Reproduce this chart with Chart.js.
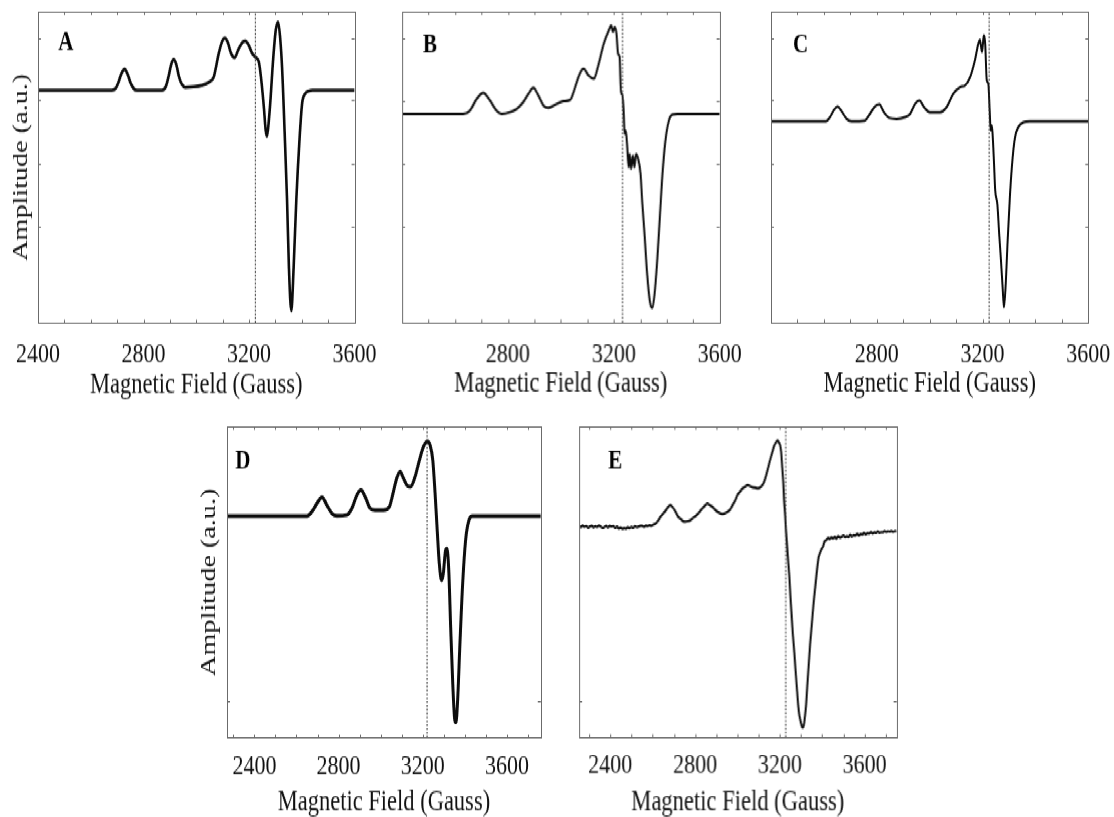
<!DOCTYPE html>
<html>
<head>
<meta charset="utf-8">
<script src="https://cdn.jsdelivr.net/npm/chart.js@4.4.1/dist/chart.umd.min.js"></script>
<style>
  html, body { margin: 0; padding: 0; background: #fff; overflow: hidden; }
  #stage { position: absolute; left: 0; top: 0; width: 1114px; height: 640px; transform-origin: 0 0; }
  .panel { position: absolute; }
</style>
</head>
<body>
<div id="stage"></div>
<script>
// --- Data (EPR spectra, field in Gauss, amplitude in a.u.) ---
const fieldA = [2400, 2680, 2695, 2705, 2715, 2728, 2740, 2750, 2762, 2775,
  2870, 2885, 2895, 2905, 2914, 2924, 2934, 2945, 2958, 2990,
  3020, 3047, 3066, 3085, 3098, 3108, 3119, 3132, 3145, 3161,
  3176, 3186, 3199, 3211, 3224, 3237, 3245, 3256, 3263, 3268,
  3275, 3281, 3291, 3301, 3310, 3317, 3325, 3335, 3344, 3351,
  3360, 3369, 3379, 3391, 3401, 3413, 3426, 3440, 3600];
const ampA = [0, 0, 0.02, 0.08, 0.16, 0.21, 0.16, 0.08, 0.02, 0,
  0, 0.04, 0.14, 0.26, 0.31, 0.26, 0.14, 0.06, 0.03, 0.035,
  0.05, 0.08, 0.133, 0.367, 0.49, 0.523, 0.483, 0.367, 0.327, 0.417,
  0.483, 0.493, 0.45, 0.373, 0.333, 0.283, 0.133, -0.167, -0.4, -0.46,
  -0.3, -0.1, 0.3, 0.6, 0.683, 0.55, 0.233, -0.433, -1.1, -1.767,
  -2.207, -1.767, -1.1, -0.5, -0.133, -0.033, -0.007, 0, 0];

const fieldB = [2400, 2631, 2656, 2682, 2707, 2732, 2757, 2776, 2808, 2833,
  2858, 2877, 2896, 2915, 2934, 2953, 2985, 3010, 3035, 3054,
  3071, 3086, 3105, 3124, 3143, 3162, 3181, 3190, 3197, 3203,
  3210, 3216, 3222, 3227, 3232, 3237, 3241, 3245, 3250, 3256,
  3260, 3265, 3272, 3278, 3284, 3292, 3301, 3307, 3316, 3326,
  3336, 3345, 3354, 3364, 3374, 3384, 3395, 3408, 3421, 3440, 3600];
const ampB = [0, 0, 0.033, 0.15, 0.21, 0.133, 0.033, 0, 0.017, 0.05,
  0.117, 0.2, 0.26, 0.183, 0.083, 0.06, 0.1, 0.127, 0.14, 0.267,
  0.4, 0.45, 0.383, 0.35, 0.5, 0.7, 0.833, 0.883, 0.817, 0.867,
  0.8, 0.6, 0.567, 0.2, 0.2, 0.033, -0.2, -0.167, -0.3, -0.533,
  -0.4, -0.55, -0.417, -0.533, -0.4, -0.45, -0.6, -0.867, -1.2, -1.6,
  -1.867, -1.94, -1.8, -1.467, -1.033, -0.6, -0.267, -0.067, -0.007, 0, 0];

const fieldC = [2400, 2608, 2623, 2638, 2652, 2667, 2686, 2705, 2755, 2774,
  2793, 2810, 2827, 2847, 2875, 2907, 2926, 2945, 2961, 2979,
  3001, 3039, 3064, 3089, 3115, 3134, 3153, 3171, 3184, 3190,
  3198, 3205, 3210, 3216, 3222, 3227, 3231, 3235, 3238, 3243,
  3248, 3256, 3263, 3269, 3276, 3281, 3287, 3295, 3304, 3314,
  3323, 3335, 3354, 3379, 3600];
const ampC = [0, 0, 0.04, 0.113, 0.147, 0.1, 0.023, 0, 0.007, 0.073,
  0.147, 0.167, 0.09, 0.033, 0.023, 0.04, 0.073, 0.173, 0.207, 0.14,
  0.09, 0.09, 0.14, 0.273, 0.34, 0.357, 0.44, 0.607, 0.773, 0.813,
  0.69, 0.857, 0.773, 0.407, 0.373, 0.107, -0.093, -0.043, -0.127, -0.393,
  -0.693, -0.827, -1.127, -1.36, -1.66, -1.86, -1.66, -1.193, -0.727, -0.36,
  -0.16, -0.06, -0.01, 0, 0];

const fieldD = [2270, 2650, 2673, 2697, 2721, 2744, 2768, 2792, 2839, 2863,
  2887, 2906, 2926, 2950, 2973, 3013, 3041, 3060, 3076, 3092,
  3108, 3127, 3142, 3163, 3184, 3203, 3222, 3234, 3247, 3258,
  3269, 3278, 3289, 3297, 3308, 3314, 3323, 3332, 3342, 3351,
  3357, 3365, 3376, 3389, 3403, 3419, 3435, 3760];
const ampD = [0, 0, 0.043, 0.127, 0.187, 0.11, 0.027, 0.003, 0.01, 0.077,
  0.21, 0.26, 0.193, 0.077, 0.06, 0.06, 0.093, 0.243, 0.377, 0.443,
  0.377, 0.3, 0.293, 0.393, 0.56, 0.693, 0.743, 0.71, 0.56, 0.227,
  -0.173, -0.473, -0.64, -0.573, -0.34, -0.323, -0.54, -1.107, -1.673, -2.023,
  -2.057, -1.84, -1.273, -0.673, -0.24, -0.04, 0, 0];

const fieldE = [2253, 2262, 2270, 2279, 2287, 2296, 2304, 2313, 2321, 2330,
  2338, 2347, 2355, 2364, 2372, 2381, 2389, 2398, 2406, 2415,
  2423, 2432, 2440, 2449, 2457, 2466, 2474, 2483, 2491, 2500,
  2508, 2517, 2525, 2534, 2542, 2551, 2559, 2568, 2576, 2585,
  2594, 2602, 2613, 2625, 2637, 2649, 2661, 2672, 2684, 2696,
  2708, 2720, 2732, 2744, 2755, 2767, 2779, 2791, 2803, 2818,
  2834, 2846, 2858, 2870, 2882, 2894, 2906, 2918, 2929, 2941,
  2953, 2965, 2977, 2989, 3000, 3012, 3024, 3036, 3048, 3060,
  3071, 3083, 3095, 3107, 3119, 3131, 3142, 3153, 3163, 3172,
  3179, 3185, 3190, 3196, 3201, 3206, 3211, 3216, 3220, 3225,
  3229, 3234, 3239, 3245, 3250, 3256, 3261, 3268, 3274, 3280,
  3286, 3292, 3299, 3304, 3308, 3313, 3318, 3324, 3330, 3337,
  3343, 3351, 3359, 3367, 3375, 3383, 3391, 3397, 3403, 3411,
  3419, 3427, 3435, 3443, 3451, 3459, 3467, 3475, 3483, 3491,
  3500, 3508, 3516, 3524, 3532, 3540, 3548, 3556, 3565, 3573,
  3581, 3589, 3597, 3605, 3613, 3621, 3630, 3638, 3646, 3654,
  3662, 3670, 3678, 3686, 3694, 3702, 3710, 3718, 3727, 3735,
  3743, 3751];
const ampE = [0.005, -0.002, 0.012, 0.001, 0.008, -0.009, 0.004, 0.011, -0.005, 0.006,
  -0.002, 0.014, 0.003, -0.01, -0.002, 0.01, -0.006, 0.009, 0.002, 0.008,
  -0.01, 0.002, -0.016, -0.006, -0.02, -0.011, -0.018, -0.003, -0.013, 0.0,
  -0.01, 0.006, -0.004, 0.003, 0.009, 0.01, 0.0, 0.012, 0.008, 0.016,
  0.009, 0.022, 0.03, 0.06, 0.1, 0.13, 0.16, 0.195, 0.217, 0.19,
  0.15, 0.1, 0.08, 0.055, 0.05, 0.056, 0.066, 0.09, 0.107, 0.14,
  0.183, 0.21, 0.233, 0.215, 0.2, 0.172, 0.15, 0.135, 0.127, 0.135,
  0.15, 0.17, 0.217, 0.26, 0.317, 0.35, 0.383, 0.4, 0.417, 0.405,
  0.393, 0.39, 0.383, 0.393, 0.417, 0.48, 0.567, 0.66, 0.733, 0.8,
  0.833, 0.853, 0.86, 0.84, 0.817, 0.75, 0.6, 0.45, 0.267, 0.12,
  -0.033, -0.18, -0.333, -0.5, -0.7, -0.9, -1.067, -1.25, -1.433, -1.6,
  -1.767, -1.88, -1.95, -1.99, -2.0, -1.98, -1.9, -1.77, -1.567, -1.35,
  -1.167, -0.967, -0.767, -0.6, -0.433, -0.3, -0.25, -0.22, -0.2, -0.145,
  -0.133, -0.11, -0.122, -0.104, -0.115, -0.1, -0.118, -0.092, -0.107, -0.1,
  -0.085, -0.103, -0.094, -0.101, -0.08, -0.097, -0.084, -0.088, -0.07, -0.087,
  -0.072, -0.078, -0.06, -0.077, -0.063, -0.068, -0.052, -0.067, -0.055, -0.06,
  -0.046, -0.059, -0.053, -0.055, -0.042, -0.052, -0.044, -0.049, -0.04, -0.05,
  -0.042, -0.045];

// reference field of the dotted marker line in each panel
const markerField = { A: 3224, B: 3233, C: 3225, D: 3220, E: 3228 };

// axis ranges and tick values
const xRange = { A: [2400, 3600], B: [2400, 3600], C: [2400, 3600], D: [2270, 3760], E: [2253, 3751] };
const yRange = { A: [-2.325, 0.783], B: [-2.083, 1.017], C: [-2.01, 1.09], D: [-2.209, 0.89], E: [-2.098, 0.997] };
const xTickLabels = { A: [2400, 2800, 3200, 3600], B: [2800, 3200, 3600], C: [2800, 3200, 3600],
                      D: [2400, 2800, 3200, 3600], E: [2400, 2800, 3200, 3600] };
const yTickValues = { A: [0.523, -0.1, -0.733, -1.36], B: [0.757, 0.133, -0.5, -1.127],
                      C: [0.83, 0.207, -0.427, -1.053], D: [-1.84], E: [-1.733] };

// --- Layout (reference pixel coordinates) ---
const SY = 1.28;              // vertical stretch of the original figure
const FONT = "'Liberation Serif', 'Times New Roman', serif";
const ML = 37, MR = 45, MT = 12, MB = 85;

const panels = [
  { id: 'A', field: fieldA, amp: ampA, plot: [37.7, 11.7, 354.3, 322.5], lw: 2.6, yTitle: 7.1, tickOff: 22.2, titleOff: 62, letter: [20.3, 38.3] },
  { id: 'B', field: fieldB, amp: ampB, plot: [402.3, 11.7, 719, 322.3], lw: 2.0, tickOff: 22.2, titleOff: 62, letter: [20.7, 40] },
  { id: 'C', field: fieldC, amp: ampC, plot: [771, 11.7, 1088.3, 322.3], lw: 2.0, tickOff: 22.2, titleOff: 62, letter: [22, 40] },
  { id: 'D', field: fieldD, amp: ampD, plot: [226.7, 427, 540.5, 736.9], lw: 3.0, yTitle: 6.1, tickOff: 18.3, titleOff: 65.1, letter: [8.3, 41.3] },
  { id: 'E', field: fieldE, amp: ampE, plot: [579, 427, 895.7, 736.5], lw: 2.0, tickOff: 18.3, titleOff: 65.1, letter: [29, 41.3] }
];

const stage = document.getElementById('stage');
stage.style.transform = `scaleY(${SY})`;

// frame with inward ticks on all four sides + panel letter
const framePlugin = {
  id: 'frame',
  afterDraw(chart, args, opts) {
    const { ctx, chartArea: a, scales: { x, y } } = chart;
    ctx.save();
    ctx.strokeStyle = '#6b6b6b';
    ctx.lineWidth = 1;
    ctx.strokeRect(Math.round(a.left) + 0.5, Math.round(a.top) + 0.5,
      Math.round(a.right - a.left), Math.round(a.bottom - a.top));
    ctx.beginPath();
    const tx = 2.4, ty = 3;
    x.ticks.forEach(t => {
      const px = Math.round(x.getPixelForValue(t.value)) + 0.5;
      ctx.moveTo(px, a.bottom); ctx.lineTo(px, a.bottom - tx);
      ctx.moveTo(px, a.top); ctx.lineTo(px, a.top + tx);
    });
    y.ticks.forEach(t => {
      const py = Math.round(y.getPixelForValue(t.value)) + 0.5;
      ctx.moveTo(a.left, py); ctx.lineTo(a.left + ty, py);
      ctx.moveTo(a.right, py); ctx.lineTo(a.right - ty, py);
    });
    ctx.stroke();
    ctx.fillStyle = '#000';
    ctx.font = `bold 21px ${FONT}`;
    ctx.textBaseline = 'alphabetic';
    ctx.fillText(opts.letter, a.left + opts.dx, a.top + opts.dy / SY);
    ctx.restore();
  }
};

function makePanel(p) {
  const [L, T, R, B] = p.plot;
  const wrap = document.createElement('div');
  wrap.className = 'panel';
  wrap.style.left = (L - ML) + 'px';
  wrap.style.top = ((T - MT) / SY) + 'px';
  wrap.style.width = (R - L + ML + MR) + 'px';
  wrap.style.height = ((B - T + MT + MB) / SY) + 'px';
  const canvas = document.createElement('canvas');
  wrap.appendChild(canvas);
  stage.appendChild(wrap);

  const [xMin, xMax] = xRange[p.id];
  const [yMin, yMax] = yRange[p.id];
  const labels = xTickLabels[p.id];
  const xTicks = [];
  for (let v = Math.ceil(xMin / 100) * 100; v <= xMax; v += 100) xTicks.push(v);

  const n = Math.min(p.field.length, p.amp.length);
  const spectrum = [];
  for (let i = 0; i < n; i++) spectrum.push({ x: p.field[i], y: p.amp[i] });
  const g = markerField[p.id];

  new Chart(canvas, {
    type: 'line',
    data: {
      datasets: [
        { data: [{ x: g, y: yMin }, { x: g, y: yMax }], borderColor: '#333', borderWidth: 1.1,
          borderDash: [1.5, 1.5], pointRadius: 0 },
        { data: spectrum, borderColor: '#0d0d0d', borderWidth: p.lw, pointRadius: 0,
          cubicInterpolationMode: p.id === 'E' ? 'default' : 'monotone', tension: p.id === 'E' ? 0.2 : 0.4 }
      ]
    },
    options: {
      responsive: true,
      maintainAspectRatio: false,
      animation: false,
      events: [],
      layout: { padding: { left: 0, top: MT / SY, right: MR, bottom: 0 } },
      plugins: {
        legend: { display: false },
        tooltip: { enabled: false },
        frame: { letter: p.id, dx: p.letter[0], dy: p.letter[1] }
      },
      scales: {
        x: {
          type: 'linear', min: xMin, max: xMax,
          afterBuildTicks: s => { s.ticks = xTicks.map(v => ({ value: v })); },
          afterFit: s => { s.height = MB / SY; },
          grid: { display: false }, border: { display: false },
          ticks: {
            autoSkip: false, maxRotation: 0, color: '#111',
            padding: p.tickOff / SY - 13.2,
            font: { family: FONT, size: 22 },
            callback: v => labels.includes(v) ? String(v) : ''
          },
          title: {
            display: true, text: 'Magnetic Field (Gauss)', color: '#111',
            font: { family: FONT, size: 22.5 },
            padding: { top: 0, bottom: (MB - p.titleOff) / SY - 13.5 }
          }
        },
        y: {
          type: 'linear', min: yMin, max: yMax,
          afterBuildTicks: s => { s.ticks = yTickValues[p.id].map(v => ({ value: v })); },
          afterFit: s => { s.width = ML; },
          grid: { display: false }, border: { display: false },
          ticks: { display: false },
          title: {
            display: p.yTitle !== undefined, text: 'Amplitude (a.u.)', color: '#111',
            font: { family: FONT, size: 22 },
            padding: { top: p.yTitle || 0, bottom: 0 }
          }
        }
      }
    },
    plugins: [framePlugin]
  });
}

panels.forEach(makePanel);
</script>
</body>
</html>
